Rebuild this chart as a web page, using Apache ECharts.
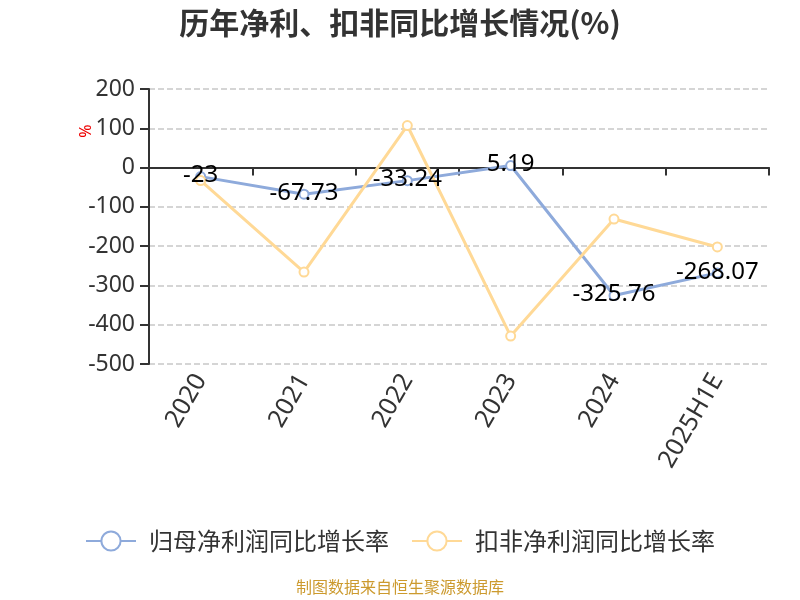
<!DOCTYPE html>
<html><head><meta charset="utf-8">
<script src="https://cdn.jsdelivr.net/npm/echarts@6/dist/echarts.min.js"></script>
<style>html,body{margin:0;padding:0;background:#fff}#c{width:800px;height:600px}</style>
</head><body><div id="c"></div>
<script>
var categories = ['2020','2021','2022','2023','2024','2025H1E'];
var netProfitGrowth = [-23, -67.73, -33.24, 5.19, -325.76, -268.07];
var deductedGrowth = [-33, -266, 107, -429, -131, -202];
var yTicks = {min: -500, max: 200, interval: 100};

var FONT = '"Noto Sans", sans-serif';
var CJK = '"Noto Sans CJK SC", sans-serif';
var chart = echarts.init(document.getElementById('c'));
chart.setOption({
  animation: false,
  title: {
    text: '历年净利、扣非同比增长情况(%)', left: 'center', top: 3,
    textStyle: {fontSize: 30, fontWeight: 'bold', color: '#333', fontFamily: CJK}
  },
  graphic: [
    {type: 'text', x: 86, y: 131, rotation: Math.PI/2,
     style: {text: '%', fill: '#e00', fontSize: 16, fontFamily: FONT, align: 'center', verticalAlign: 'middle'}},
    {type: 'text', left: 'center', top: 579,
     style: {text: '制图数据来自恒生聚源数据库', fill: '#CC9A2E', fontSize: 16, fontFamily: CJK}}
  ],
  grid: {left: 149, right: 31, top: 89, bottom: 236, outerBoundsMode: 'none', containLabel: false},
  legend: {
    top: 524, left: 'center', itemWidth: 50, itemHeight: 24, itemGap: 22,
    textStyle: {fontSize: 24, color: '#333', fontFamily: CJK, padding: [0, 0, 0, 8]},
    data: ['归母净利润同比增长率', '扣非净利润同比增长率']
  },
  xAxis: {
    type: 'category', data: categories, boundaryGap: true,
    axisLine: {onZero: true, lineStyle: {color: '#333', width: 2}},
    axisTick: {show: true, length: 8, lineStyle: {color: '#333', width: 2}},
    axisLabel: {rotate: 60, fontSize: 25, color: '#333', margin: 12, fontFamily: FONT, interval: 0}
  },
  yAxis: {
    type: 'value', min: yTicks.min, max: yTicks.max, interval: yTicks.interval,
    axisLine: {show: true, lineStyle: {color: '#333', width: 2}},
    axisTick: {show: true, length: 9, lineStyle: {color: '#333', width: 2}},
    axisLabel: {fontSize: 23, color: '#333', margin: 14, fontFamily: FONT},
    splitLine: {lineStyle: {type: 'dashed', color: '#c8c8c8', width: 1.5}}
  },
  series: [
    {name: '归母净利润同比增长率', type: 'line', data: netProfitGrowth,
     symbol: 'emptyCircle', symbolSize: 9,
     itemStyle: {color: '#8EAADB'}, lineStyle: {width: 3, color: '#8EAADB'},
     label: {show: true, position: 'inside', offset: [0, -1], fontSize: 24, color: '#000', fontFamily: FONT}},
    {name: '扣非净利润同比增长率', type: 'line', data: deductedGrowth,
     symbol: 'emptyCircle', symbolSize: 9,
     itemStyle: {color: '#FFD996'}, lineStyle: {width: 3, color: '#FFD996'},
     label: {show: false}}
  ]
});
</script></body></html>
